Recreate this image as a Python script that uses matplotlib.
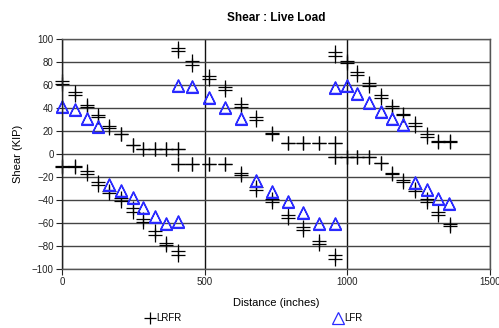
import matplotlib
matplotlib.use("Agg")
import matplotlib.pyplot as plt
from matplotlib.path import Path
from matplotlib.lines import Line2D

plt.rcParams['font.family'] = ['Liberation Sans', 'DejaVu Sans']

# ---- data ----
x_pts = [0, 45, 86, 125, 165, 206, 248, 285, 326, 365, 405,
         405, 457, 516, 571, 626, 680, 735, 791, 846, 902, 957,
         957, 998, 1035, 1076, 1117, 1158, 1196, 1237, 1278, 1318, 1360]

lrfr_max_a = [63.5, 54, 43, 34, 24.5, 17.5, 8, 4.3, 4.3, 4.3, 4.3,
              92.5, 80.5, 68, 58, 43.5, 32, 18.5, 9.3, 9.3, 9.3, 9.3,
              89, 80.5, 71, 61.5, 51, 42, 35, 27, 17, 11.5, 11.5]
lrfr_max_b = [61, 51, 41, 32, 23, 17, 7.5, 4.3, 4.3, 4.3, 4.3,
              89.5, 77, 65, 55.5, 41, 30, 17, 9.3, 9.3, 9.3, 9.3,
              85.5, 79, 68.5, 59.5, 48.5, 40, 33.5, 24.5, 14.5, 10.5, 10.5]

lrfr_min_a = [-10, -10, -14.5, -24, -32, -38, -47, -56.5, -67, -77.5, -84.5,
              -8.7, -8.7, -8.7, -8.7, -16.5, -29, -39, -53, -63.5, -75.5, -88,
              -3, -3, -3, -3, -8, -16.5, -22.5, -30, -39.5, -50.5, -60.5]
lrfr_min_b = [-11, -11, -17, -27, -34, -41, -50, -59.5, -70, -79.5, -87.5,
              -8.7, -8.7, -8.7, -8.7, -18.5, -31.5, -42, -56, -66.5, -78.5, -91.5,
              -3, -3, -3, -3, -8, -17.5, -24, -32.5, -42, -53, -63]

lfr_max_x = [0, 45, 86, 125, 405, 457, 516, 571, 626,
             957, 998, 1035, 1076, 1117, 1158, 1196]
lfr_max = [42, 38.7, 31.5, 24.5, 59.6, 59, 49.6, 41, 31,
           58, 59.6, 53, 45, 37.4, 31, 26]

lfr_min_x = [166, 206, 248, 285, 326, 365, 405,
             680, 735, 791, 846, 902, 957,
             1237, 1278, 1318, 1358]
lfr_min = [-26.5, -31.6, -37.4, -45.8, -53.5, -60, -58.5,
           -22.6, -32, -40.7, -50, -59.6, -60.3,
           -24, -30.7, -38.5, -42.3]

x_ticks = [0, 500, 1000, 1500]
y_ticks = list(range(-100, 101, 20))

# ---- figure ----
fig = plt.figure(figsize=(4.99, 3.28), dpi=100)
ax = fig.add_axes([62 / 499, 1 - 269 / 328, (490 - 62) / 499, (269 - 39) / 328])

ax.set_xlim(0, 1500)
ax.set_ylim(-100, 100)
ax.set_xticks(x_ticks)
ax.set_yticks(y_ticks)
ax.yaxis.grid(True, color='#444444', lw=1.0)
ax.xaxis.grid(True, color='#111111', lw=1.0)
ax.set_axisbelow(True)
for s in ax.spines.values():
    s.set_color('#555555')
    s.set_linewidth(1.0)
ax.spines['left'].set_color('#222222')
ax.tick_params(direction='out', length=4, width=0.8, labelsize=7, pad=2,
               colors='#222222')

# double triangle marker
tri = [(0, 1), (-1, -1), (1, -1), (0, 1)]
verts = tri + [(vx, vy - 0.18) for vx, vy in tri]
codes = [Path.MOVETO, Path.LINETO, Path.LINETO, Path.LINETO] * 2
dtri = Path(verts, codes)

blue = '#2a2aff'
pm = dict(marker='+', ls='none', color='black', ms=10, mew=0.9, clip_on=False)
ax.plot(x_pts, lrfr_max_a, **pm)
ax.plot(x_pts, lrfr_max_b, **pm)
ax.plot(x_pts, lrfr_min_a, **pm)
ax.plot(x_pts, lrfr_min_b, **pm)

tm = dict(marker=dtri, ls='none', mfc='none', mec=blue, ms=10, mew=0.9, clip_on=False)
ax.plot(lfr_max_x, lfr_max, **tm)
ax.plot(lfr_min_x, lfr_min, **tm)

ax.set_title('Shear : Live Load', fontsize=8.5, fontweight='bold', pad=13)
ax.set_xlabel('Distance (inches)', fontsize=8, labelpad=8)
ax.set_ylabel('Shear (KIP)', fontsize=8, labelpad=6)

h1 = Line2D([], [], marker='+', ls='none', color='black', ms=9, mew=0.9)
h2 = Line2D([], [], marker='^', ls='none', mfc='none', mec=blue, ms=9, mew=0.9)
ly = 1 - 318 / 328
fig.legend([h1], ['LRFR'], loc='center left', bbox_to_anchor=(145 / 499, ly),
           frameon=False, handlelength=1.0, handletextpad=0.2, fontsize=7,
           borderpad=0, borderaxespad=0)
fig.legend([h2], ['LFR'], loc='center left', bbox_to_anchor=(333 / 499, ly),
           frameon=False, handlelength=1.0, handletextpad=0.2, fontsize=7,
           borderpad=0, borderaxespad=0)

fig.savefig('out.png', dpi=100)
